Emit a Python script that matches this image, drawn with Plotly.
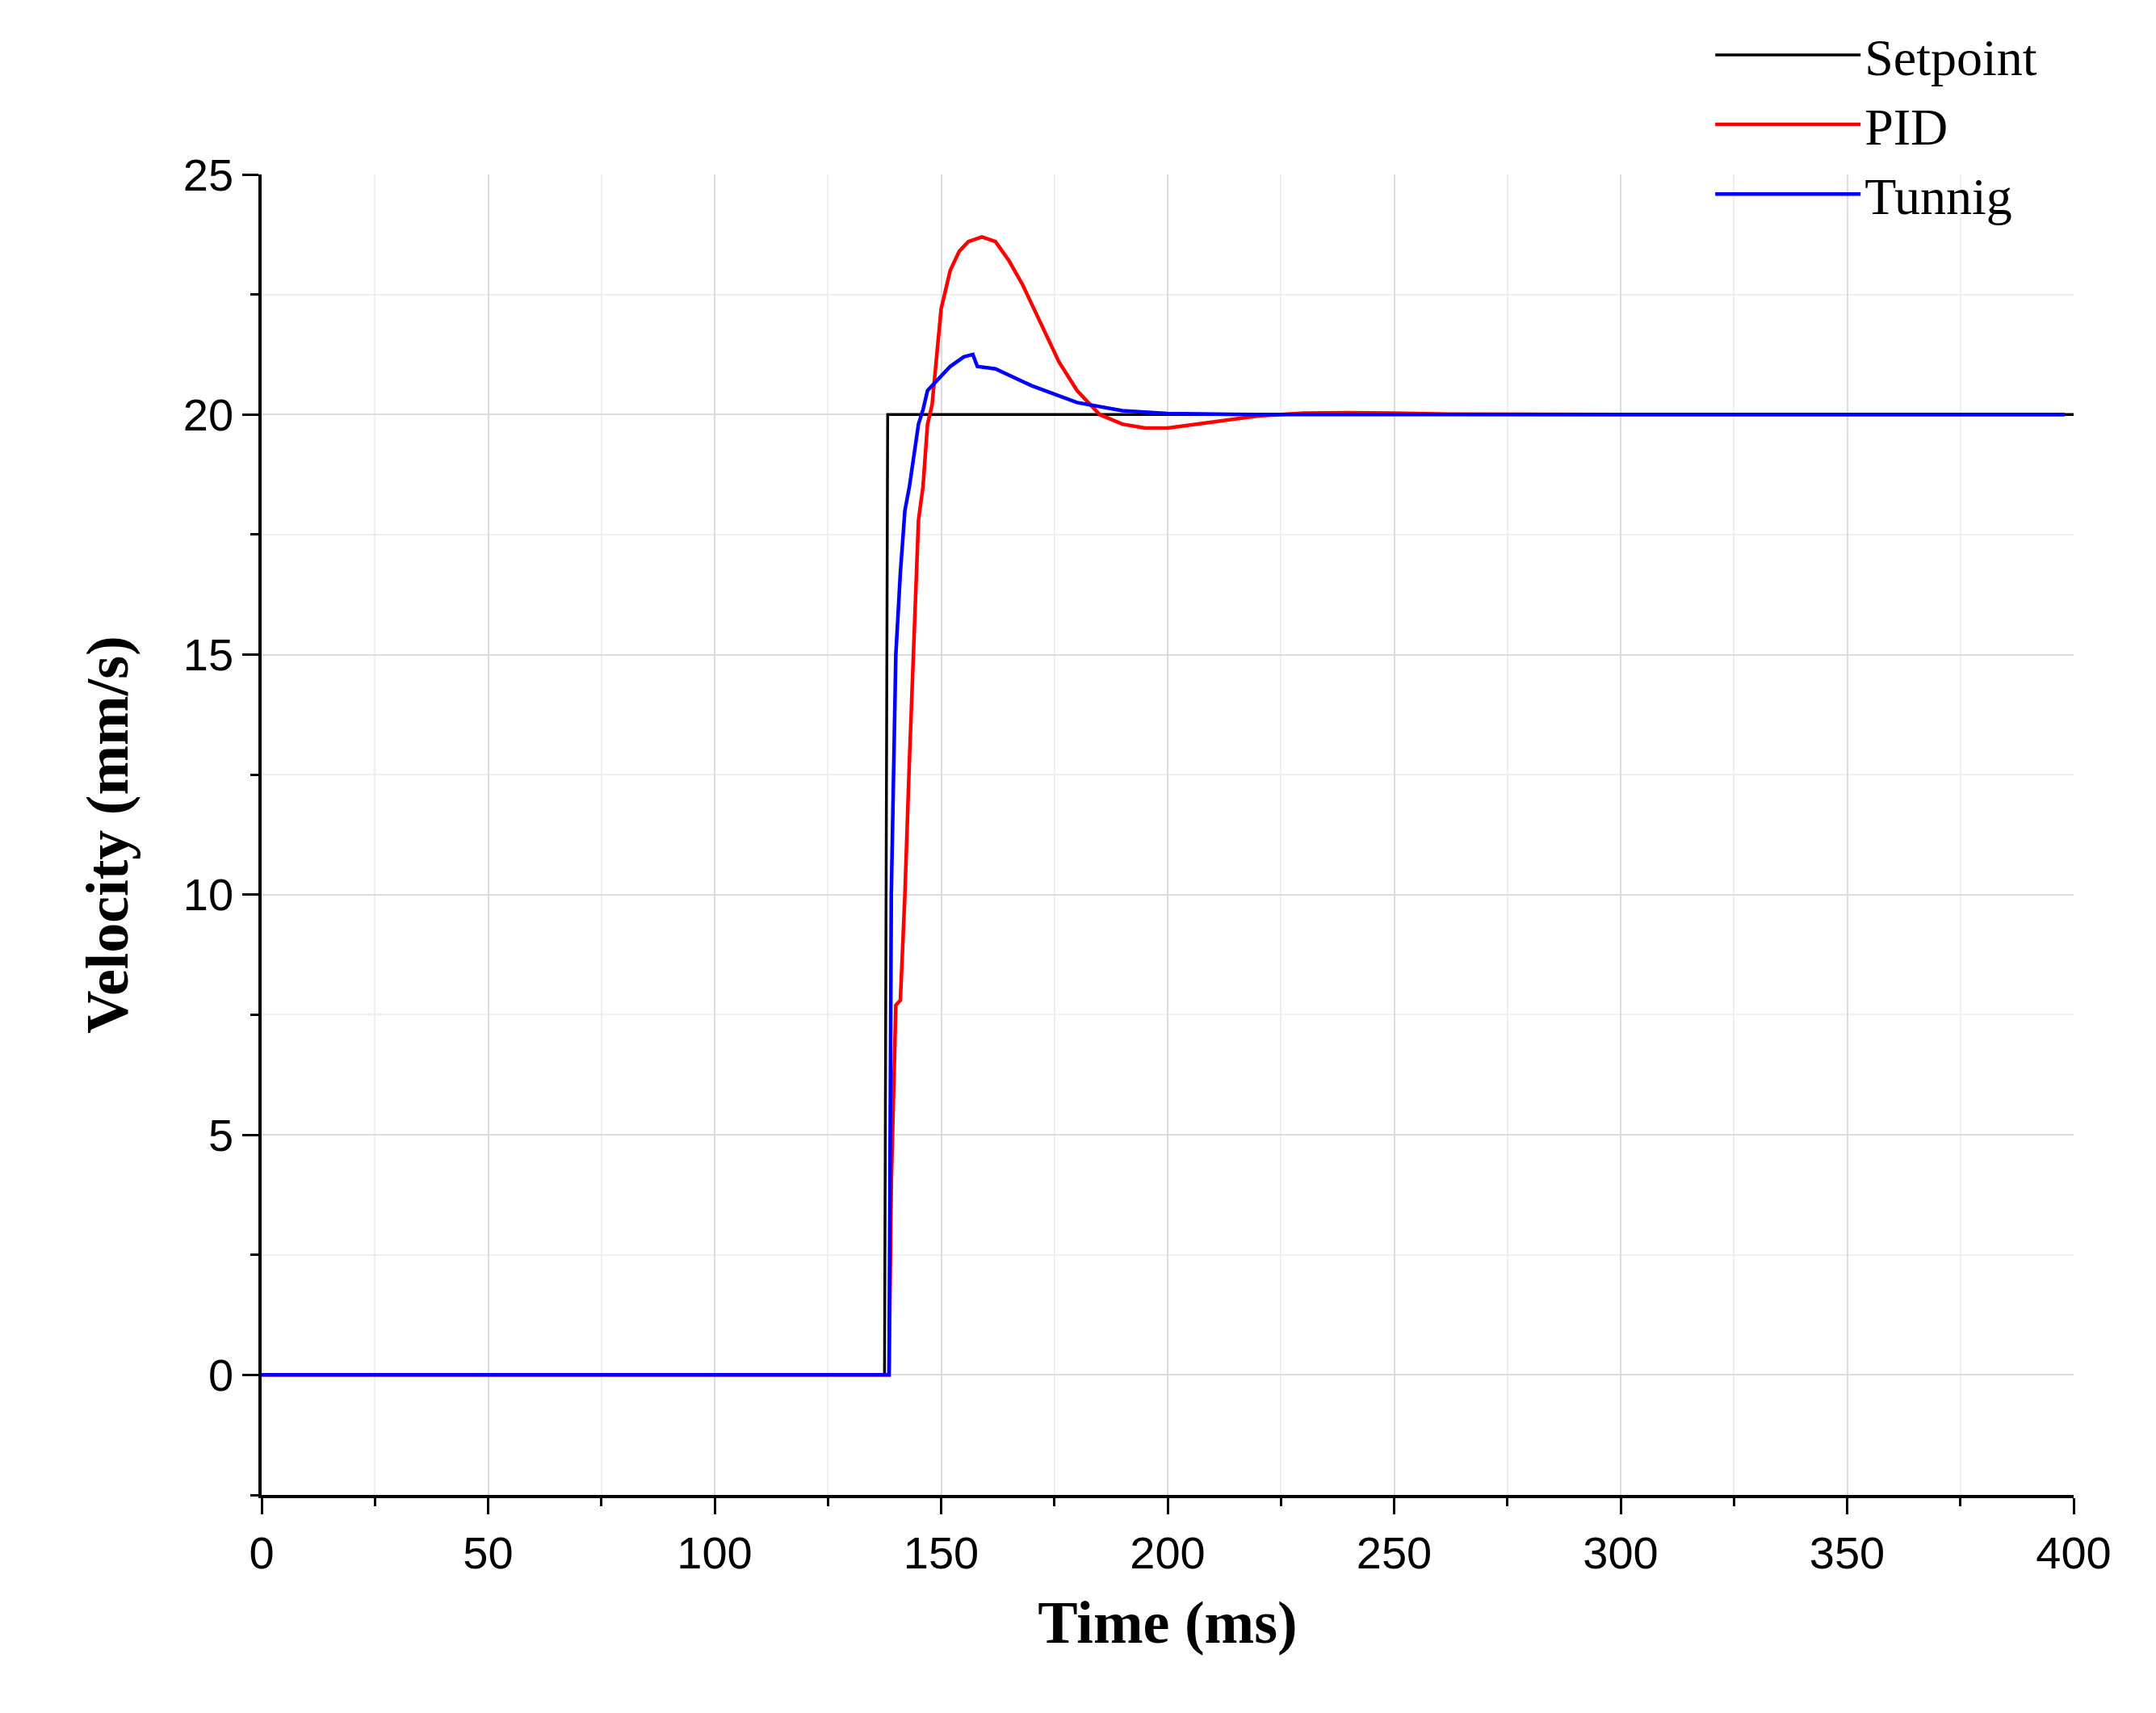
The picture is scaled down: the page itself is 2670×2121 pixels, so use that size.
import plotly.graph_objects as go

sp_t = [0, 137.5, 138.2, 400]
sp_v = [0, 0, 20, 20]

pid_t = [0, 138.5, 139, 140, 141, 142, 143, 144, 145, 146, 147, 148, 149, 150, 152, 154, 156, 159, 162, 165, 168, 172, 176, 180, 185, 190, 195, 200, 210, 220, 230, 240, 250, 262, 300, 398]
pid_v = [0, 0, 4, 7.7, 7.8, 10, 12.8, 15.5, 17.8, 18.5, 19.8, 20.2, 21.2, 22.2, 23.0, 23.4, 23.6, 23.7, 23.6, 23.2, 22.7, 21.9, 21.1, 20.5, 20.0, 19.8, 19.72, 19.72, 19.85, 19.97, 20.03, 20.04, 20.03, 20.01, 20.0, 20.0]

tun_t = [0, 138.5, 139, 140, 141, 142, 143, 144, 145, 146, 147, 148, 150, 152, 155, 157, 158, 162, 170, 180, 190, 200, 220, 398]
tun_v = [0, 0, 10, 15, 16.7, 18, 18.5, 19.2, 19.8, 20.1, 20.5, 20.6, 20.8, 21.0, 21.2, 21.25, 21.0, 20.95, 20.6, 20.25, 20.08, 20.02, 20.0, 20.0]

fig = go.Figure()
fig.add_trace(go.Scatter(x=sp_t, y=sp_v, mode="lines", name="Setpoint", line=dict(color="black", width=3.5)))
fig.add_trace(go.Scatter(x=pid_t, y=pid_v, mode="lines", name="PID", line=dict(color="#ff0000", width=4.5)))
fig.add_trace(go.Scatter(x=tun_t, y=tun_v, mode="lines", name="Tunnig", line=dict(color="#0000ff", width=4.5)))

axis_common = dict(showline=True, linecolor="black", linewidth=3.5, ticks="outside", ticklen=20, tickwidth=3,
                   tickcolor="black", showgrid=True, gridcolor="#dcdcdc", gridwidth=2, zeroline=False,
                   tickfont=dict(family="Liberation Sans, Arial", size=56, color="black"),
                   minor=dict(ticks="outside", ticklen=10, tickwidth=3, tickcolor="black", showgrid=True,
                              gridcolor="#efefef", gridwidth=2))
fig.update_xaxes(range=[0, 400], dtick=50, minor_dtick=25, **axis_common,
                 title=dict(text="<b>Time (ms)</b>", font=dict(family="Liberation Serif, Times New Roman", size=74, color="black"), standoff=30))
fig.update_yaxes(range=[-2.5, 25], dtick=5, minor_dtick=2.5, **axis_common,
                 title=dict(text="<b>Velocity (mm/s)</b>", font=dict(family="Liberation Serif, Times New Roman", size=74, color="black"), standoff=45))

fig.update_layout(width=2670, height=2121, plot_bgcolor="white", paper_bgcolor="white",
                  margin=dict(l=316, r=110, t=155, b=278),
                  legend=dict(x=0.80, y=1.12, xanchor="left", yanchor="top", bgcolor="rgba(0,0,0,0)",
                              font=dict(family="Liberation Serif, Times New Roman", size=64, color="black"),
                              itemwidth=180, tracegroupgap=0))
fig.write_html("out.html")
